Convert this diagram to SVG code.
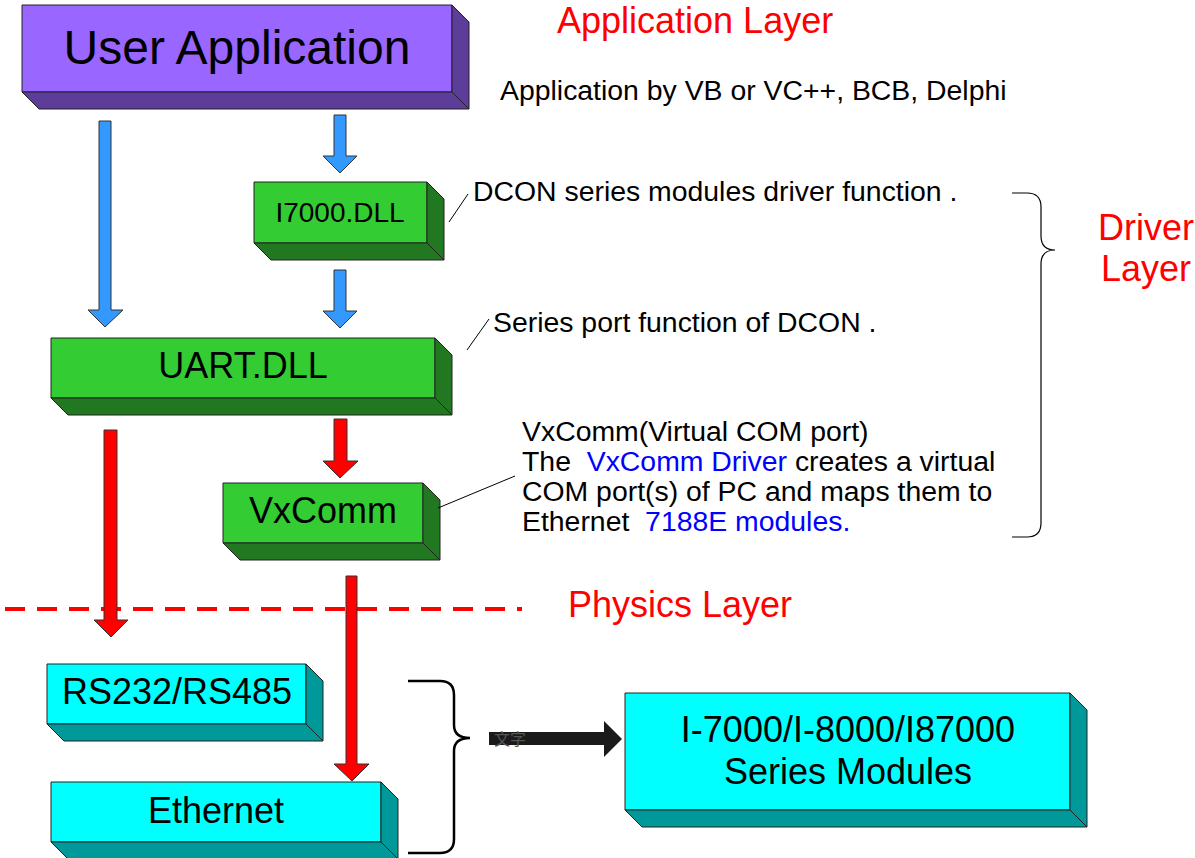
<svg xmlns="http://www.w3.org/2000/svg" width="1195" height="858" viewBox="0 0 1195 858">
<style>
.t{font-family:"Liberation Sans",Arial,sans-serif;fill:#000}
.red{font-family:"Liberation Sans",Arial,sans-serif;fill:#ff0000;font-size:36px}
.note{font-size:28.4px}
.box{font-size:36px;text-anchor:middle}
.edge{stroke:#222;stroke-width:1;stroke-linejoin:round}
.pf{fill:#9966ff}.pd{fill:#5c3d99}
.gf{fill:#33cc33}.gd{fill:#217821}
.cf{fill:#00ffff}.cd{fill:#009999}
.blue{fill:#3399ff;stroke:#333;stroke-width:1}
.rarrow{fill:#ff0000;stroke:#333;stroke-width:1}
.lead{stroke:#000;stroke-width:1;fill:none}
.brace{fill:none;stroke:#000}
.hl{fill:#0000ff}
</style>
<rect width="1195" height="858" fill="#fff"/>

<!-- dashed physics line -->
<line x1="5" y1="609" x2="522" y2="609" stroke="#ff0000" stroke-width="4" stroke-dasharray="20 12"/>

<g id="user-application">
<rect class="pf edge" x="22" y="5" width="430" height="87"/>
<polygon class="pd edge" points="22,92 39,109 469,109 452,92"/>
<polygon class="pd edge" points="452,5 469,22 469,109 452,92"/>
<text class="t" x="237" y="64" font-size="48" text-anchor="middle">User Application</text>
</g>

<g id="i7000-dll">
<rect class="gf edge" x="254" y="182" width="173" height="61"/>
<polygon class="gd edge" points="254,243 271,260 444,260 427,243"/>
<polygon class="gd edge" points="427,182 444,199 444,260 427,243"/>
<text class="t" x="340" y="222" font-size="28" text-anchor="middle">I7000.DLL</text>
</g>

<g id="uart-dll">
<rect class="gf edge" x="51" y="338" width="384" height="60"/>
<polygon class="gd edge" points="51,398 68,415 452,415 435,398"/>
<polygon class="gd edge" points="435,338 452,355 452,415 435,398"/>
<text class="t box" x="243" y="378">UART.DLL</text>
</g>

<g id="vxcomm">
<rect class="gf edge" x="223" y="483" width="200" height="60"/>
<polygon class="gd edge" points="223,543 240,560 440,560 423,543"/>
<polygon class="gd edge" points="423,483 440,500 440,560 423,543"/>
<text class="t box" x="323" y="523">VxComm</text>
</g>

<g id="rs232-rs485">
<rect class="cf edge" x="47" y="664" width="259" height="60"/>
<polygon class="cd edge" points="47,724 64,741 323,741 306,724"/>
<polygon class="cd edge" points="306,664 323,681 323,741 306,724"/>
<text class="t box" x="177" y="704">RS232/RS485</text>
</g>

<g id="ethernet">
<rect class="cf edge" x="51" y="782" width="330" height="60"/>
<polygon class="cd edge" points="51,842 68,859 398,859 381,842"/>
<polygon class="cd edge" points="381,782 398,799 398,859 381,842"/>
<text class="t box" x="216" y="823">Ethernet</text>
</g>

<g id="series-modules">
<rect class="cf edge" x="625" y="693" width="445" height="117"/>
<polygon class="cd edge" points="625,810 642,827 1087,827 1070,810"/>
<polygon class="cd edge" points="1070,693 1087,710 1087,827 1070,810"/>
<text class="t box" x="848" y="742">I-7000/I-8000/I87000</text>
<text class="t box" x="848" y="784">Series Modules</text>
</g>

<g id="connectors">
<polygon class="blue" points="99,121 111,121 111,310 123,310 105,327 88,310 99,310"/>
<polygon class="blue" points="334,115 346,115 346,156 357,156 340,173 323,156 334,156"/>
<polygon class="blue" points="334,270 346,270 346,311 357,311 340,328 323,311 334,311"/>
<polygon class="rarrow" points="334,419 347,419 347,461 358,461 340,478 323,461 334,461"/>
<polygon class="rarrow" points="104,430 117,430 117,620 128,620 111,637 94,620 104,620"/>
<polygon class="rarrow" points="346,576 357,576 357,764 369,764 352,781 334,764 346,764"/>
<polygon fill="#1a1a1a" points="489,732 604,732 604,721 622,739 604,757 604,745 489,745"/>
<text x="494" y="745" font-size="16" fill="#555" font-family="'Noto Sans CJK SC',sans-serif">文字</text>
<path class="brace" stroke-width="2.5" d="M408,681 H440 Q454,681 454,695 V725 Q454,738 470,738 Q454,738 454,751 V839 Q454,853 440,853 H408"/>
<path class="brace" stroke-width="1.2" d="M1012,193 H1027 Q1041,193 1041,207 V236 Q1041,250 1055,250 Q1041,250 1041,264 V523 Q1041,537 1027,537 H1012"/>
<line class="lead" x1="449" y1="222" x2="468" y2="194"/>
<line class="lead" x1="467" y1="350" x2="489" y2="319"/>
<line class="lead" x1="438" y1="508" x2="515" y2="476"/>
</g>

<g id="labels">
<text class="red" x="557" y="33">Application Layer</text>
<text class="t note" x="500" y="100">Application by VB or VC++, BCB, Delphi</text>
<text class="t note" x="473" y="201">DCON series modules driver function .</text>
<text class="t note" x="493" y="332">Series port function of DCON .</text>
<text class="red" x="1146" y="240" text-anchor="middle">Driver</text>
<text class="red" x="1146" y="281" text-anchor="middle">Layer</text>
<text class="t note" x="522" y="441">VxComm(Virtual COM port)</text>
<text class="t note" x="522" y="471" xml:space="preserve">The  <tspan class="hl">VxComm Driver</tspan> creates a virtual</text>
<text class="t note" x="522" y="501">COM port(s) of PC and maps them to</text>
<text class="t note" x="522" y="531" xml:space="preserve">Ethernet  <tspan class="hl">7188E modules.</tspan></text>
<text class="red" x="568" y="617">Physics Layer</text>
</g>
</svg>
